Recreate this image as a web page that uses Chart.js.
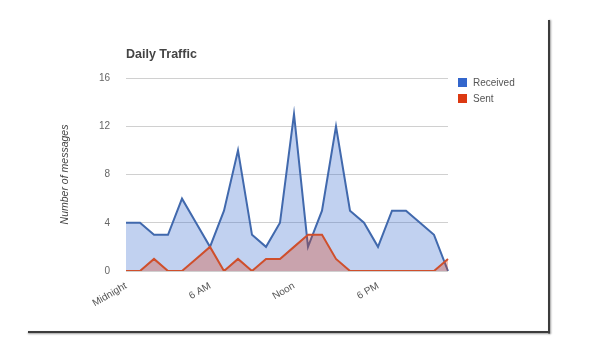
<!DOCTYPE html>
<html><head><meta charset="utf-8">
<script src="https://cdn.jsdelivr.net/npm/chart.js@4"></script>
<style>
html,body{margin:0;padding:0;background:#fff;width:604px;height:357px;overflow:hidden;font-family:"Liberation Sans",Arial,sans-serif}
#wrap{position:absolute;left:0;top:0;width:604px;height:357px}
.fr{position:absolute;background:#3c3c3c}
#legend{position:absolute;left:458px;top:74px;font-size:10px;color:#555}
#legend .it{display:flex;align-items:center;height:16px}
#legend .sw{width:9px;height:9px;margin-right:6px}
</style></head><body>
<div id="wrap"><canvas id="c" width="604" height="357"></canvas></div>
<div class="fr" style="left:548px;top:20px;width:2px;height:314px;box-shadow:1px 0 2px #999"></div>
<div class="fr" style="left:28px;top:331px;width:522px;height:2px;box-shadow:0 1px 2px #999"></div>
<div id="legend"></div>
<script>
const hours = ['Midnight','1 AM','2 AM','3 AM','4 AM','5 AM','6 AM','7 AM','8 AM','9 AM','10 AM','11 AM','Noon','1 PM','2 PM','3 PM','4 PM','5 PM','6 PM','7 PM','8 PM','9 PM','10 PM','11 PM'];
const tickLabels = ['Midnight','6 AM','Noon','6 PM'];
const yTicks = [0,4,8,12,16];
const received = [4,4,3,3,6,4,2,5,10,3,2,4,13,2,5,12,5,4,2,5,5,4,3,0];
const sent = [0,0,1,0,0,1,2,0,1,0,1,1,2,3,3,1,0,0,0,0,0,0,0,1];
const seriesNames = ['Received','Sent'];
const seriesColors = ['#3366cc','#dc3912'];

const FONT = '"Liberation Sans", Arial, sans-serif';
const chart = new Chart(document.getElementById('c'), {
  type: 'line',
  data: {
    labels: hours,
    datasets: [
      {label: seriesNames[0], data: received, borderColor: '#4169ad', backgroundColor: 'rgba(51,102,204,0.3)', fill: 'origin', borderWidth: 2, pointRadius: 0, tension: 0, order: 1},
      {label: seriesNames[1], data: sent, borderColor: '#cf4f2c', backgroundColor: 'rgba(220,57,18,0.3)', fill: 'origin', borderWidth: 2, pointRadius: 0, tension: 0, order: 0}
    ]
  },
  options: {
    responsive: false,
    animation: false,
    layout: {padding: {left: 55, top: 42, right: 604 - 448, bottom: 26}},
    plugins: {
      legend: {display: false},
      tooltip: {enabled: false},
      title: {display: true, text: 'Daily Traffic', align: 'start', fullSize: false,
        font: {family: FONT, size: 12.5, weight: 'bold'}, color: '#444', padding: {top: 5, bottom: 16}}
    },
    scales: {
      x: {
        grid: {display: false, drawTicks: false},
        border: {display: false},
        ticks: {autoSkip: false, minRotation: 30, maxRotation: 30, padding: 9, color: '#555',
          font: {family: FONT, size: 10},
          callback: function(v, i) { const l = hours[i]; return tickLabels.includes(l) ? l : ''; }},
        afterFit: s => { s.height = 60; }
      },
      y: {
        min: 0, max: 16,
        afterBuildTicks: s => { s.ticks = yTicks.map(v => ({value: v})); },
        grid: {color: '#d0d0d0', drawTicks: false, lineWidth: 1},
        border: {display: false},
        ticks: {padding: 16, color: '#666', font: {family: FONT, size: 10}},
        title: {display: true, text: 'Number of messages', color: '#444', padding: {top: 4, bottom: 0},
          font: {family: FONT, size: 10.5, style: 'italic'}},
        afterFit: s => { s.width = 71; }
      }
    }
  }
});
const lg = document.getElementById('legend');
chart.data.datasets.forEach((d, i) => {
  const it = document.createElement('div'); it.className = 'it';
  const sw = document.createElement('div'); sw.className = 'sw'; sw.style.background = seriesColors[i];
  const tx = document.createElement('span'); tx.textContent = d.label;
  it.appendChild(sw); it.appendChild(tx); lg.appendChild(it);
});
</script>
</body></html>
